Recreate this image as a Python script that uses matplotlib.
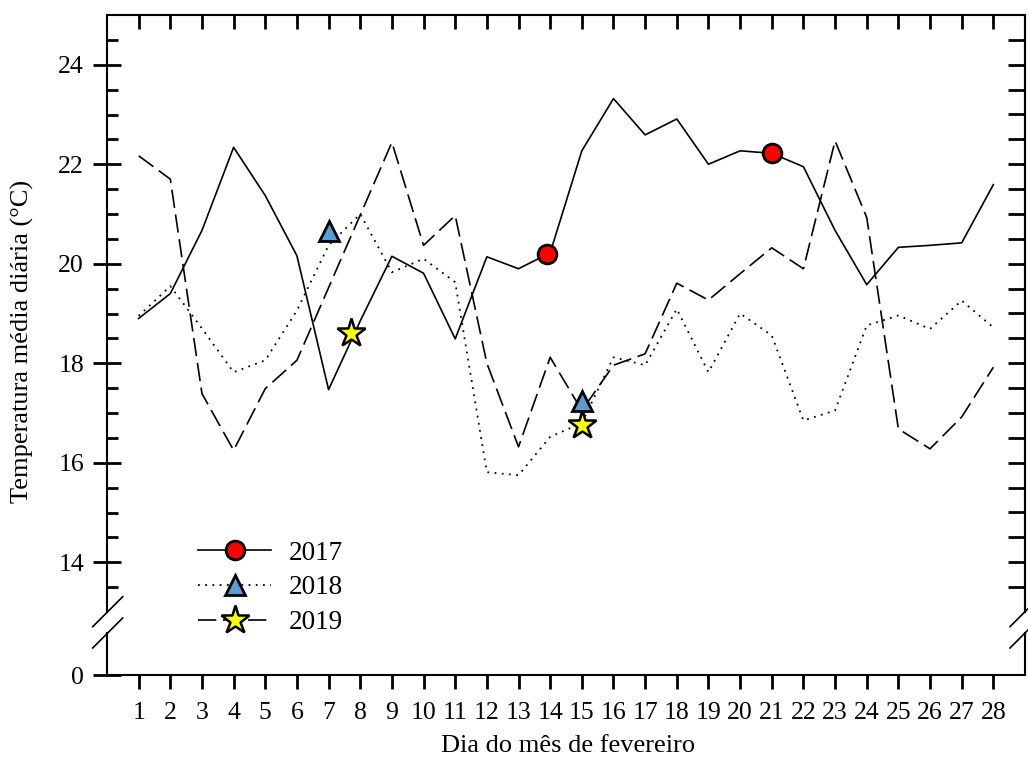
import matplotlib.pyplot as plt
from matplotlib.lines import Line2D

plt.rcParams['font.family'] = ['Liberation Serif', 'DejaVu Serif']

days = list(range(1, 29))

# temperatura media diaria (graus C), fevereiro
t2017 = [18.9, 19.4, 20.67, 22.34, 21.37, 20.16, 17.47, 18.85, 20.15, 19.81,
         18.49, 20.14, 19.9, 20.22, 22.27, 23.32, 22.59, 22.91, 22.0, 22.27,
         22.22, 21.95, 20.67, 19.58, 20.33, 20.37, 20.42, 21.59]
t2018 = [18.95, 19.55, 18.7, 17.82, 18.06, 19.06, 20.37, 21.0, 19.83, 20.1,
         19.63, 15.81, 15.75, 16.52, 16.8, 18.12, 17.96, 19.09, 17.82, 19.0,
         18.56, 16.85, 17.05, 18.76, 18.96, 18.69, 19.26, 18.72]
t2019 = [22.17, 21.7, 17.39, 16.25, 17.49, 18.06, 19.52, 20.98, 22.44, 20.37,
         20.97, 18.0, 16.32, 18.12, 17.05, 17.96, 18.19, 19.61, 19.27, 19.8,
         20.32, 19.9, 22.47, 20.93, 16.68, 16.28, 16.92, 17.92]

# pontos com simbolo
mk_days_2017 = [13.9, 21.0]
mk_vals_2017 = [20.2, 22.22]
mk_days_2018 = [7.0, 15.0]
mk_vals_2018 = [20.65, 17.25]
mk_days_2019 = [7.7, 15.0]
mk_vals_2019 = [18.6, 16.75]

W, H = 1028, 774
fig = plt.figure(figsize=(W / 100, H / 100), dpi=100)

def fx(px):
    return px / W

def fy(py):
    return 1 - py / H

L, R = 107, 1025
ax = fig.add_axes([fx(L), fy(612), fx(R - L), fy(15) - fy(612)])
axb = fig.add_axes([fx(L), fy(675), fx(R - L), fy(633) - fy(675)])

fs = 18.5
lw_sp = 1.5

solid = '-'
dotted = (0, (1, 3))
dashed = (0, (11, 4))

ax.plot(days, t2017, color='black', lw=1.2, ls=solid, zorder=3)
ax.plot(days, t2018, color='black', lw=1.3, ls=dotted, zorder=3)
ax.plot(days, t2019, color='black', lw=1.2, ls=dashed, zorder=3)

mk_2017 = dict(marker='o', ms=13.5, mfc='#ff0000', mec='black', mew=2)
mk_2018 = dict(marker='^', ms=14.5, mfc='#5b9bd5', mec='black', mew=2)
mk_2019 = dict(marker='*', ms=21, mfc='#ffff00', mec='black', mew=1.8)

ax.plot(mk_days_2017, mk_vals_2017, ls='none', zorder=5, **mk_2017)
ax.plot(mk_days_2018, mk_vals_2018, ls='none', zorder=5, **mk_2018)
ax.plot(mk_days_2019, mk_vals_2019, ls='none', zorder=5, **mk_2019)

# eixo superior (quebrado)
ax.set_xlim(0, 29)
ax.set_ylim(13, 25)
ax.set_yticks([14, 16, 18, 20, 22, 24])
ax.set_yticks([v / 2 for v in range(27, 50)], minor=True)
ax.set_xticks(days)
ax.tick_params(axis='x', which='both', bottom=False, top=True, labelbottom=False,
               direction='in', length=10, width=2)
ax.tick_params(axis='y', which='major', direction='inout', length=20, width=2,
               labelsize=fs, pad=6.5)
ax.tick_params(axis='y', which='minor', direction='in', length=8, width=2)
ax.spines['bottom'].set_visible(False)
for s in ['left', 'right', 'top']:
    ax.spines[s].set_linewidth(lw_sp)

sec = ax.secondary_yaxis('right')
sec.set_yticks([v / 2 for v in range(27, 50)])
sec.set_yticklabels([])
sec.tick_params(axis='y', which='both', direction='in', length=12, width=2)
sec.spines['right'].set_linewidth(lw_sp)

# eixo inferior (0)
axb.set_xlim(0, 29)
axb.set_ylim(0, 1)
axb.set_yticks([0])
axb.set_xticks(days)
axb.set_xticklabels([str(d) for d in days])
axb.tick_params(axis='x', direction='out', length=10, width=2, labelsize=fs, pad=9.5)
axb.tick_params(axis='y', direction='inout', length=20, width=2, labelsize=fs, pad=6.5)
axb.spines['top'].set_visible(False)
for s in ['left', 'right', 'bottom']:
    axb.spines[s].set_linewidth(lw_sp)

# marcas de quebra
for cx in [107.7, 1025]:
    for cy in [611.7, 633]:
        fig.add_artist(Line2D([fx(cx - 15), fx(cx + 15)], [fy(cy + 15), fy(cy - 15)],
                              color='black', lw=1.2, transform=fig.transFigure))

fig.text(fx(22), fy(341), 'Temperatura média diária (°C)', rotation=90,
         ha='center', va='center', fontsize=19)
fig.text(fx(568), fy(752), 'Dia do mês de fevereiro', ha='center', va='baseline',
         fontsize=19)

handles = [
    Line2D([], [], color='black', lw=1.2, ls=solid, **mk_2017),
    Line2D([], [], color='black', lw=1.3, ls=dotted, **mk_2018),
    Line2D([], [], color='black', lw=1.2, ls=dashed, **mk_2019),
]
fig.legend(handles, ['2017', '2018', '2019'], loc='center left',
           bbox_to_anchor=(fx(198), fy(588)), frameon=False, fontsize=19.5,
           borderpad=0, borderaxespad=0, handlelength=2.7, handletextpad=0.65,
           labelspacing=0.36)

fig.savefig('out.png', dpi=100)
